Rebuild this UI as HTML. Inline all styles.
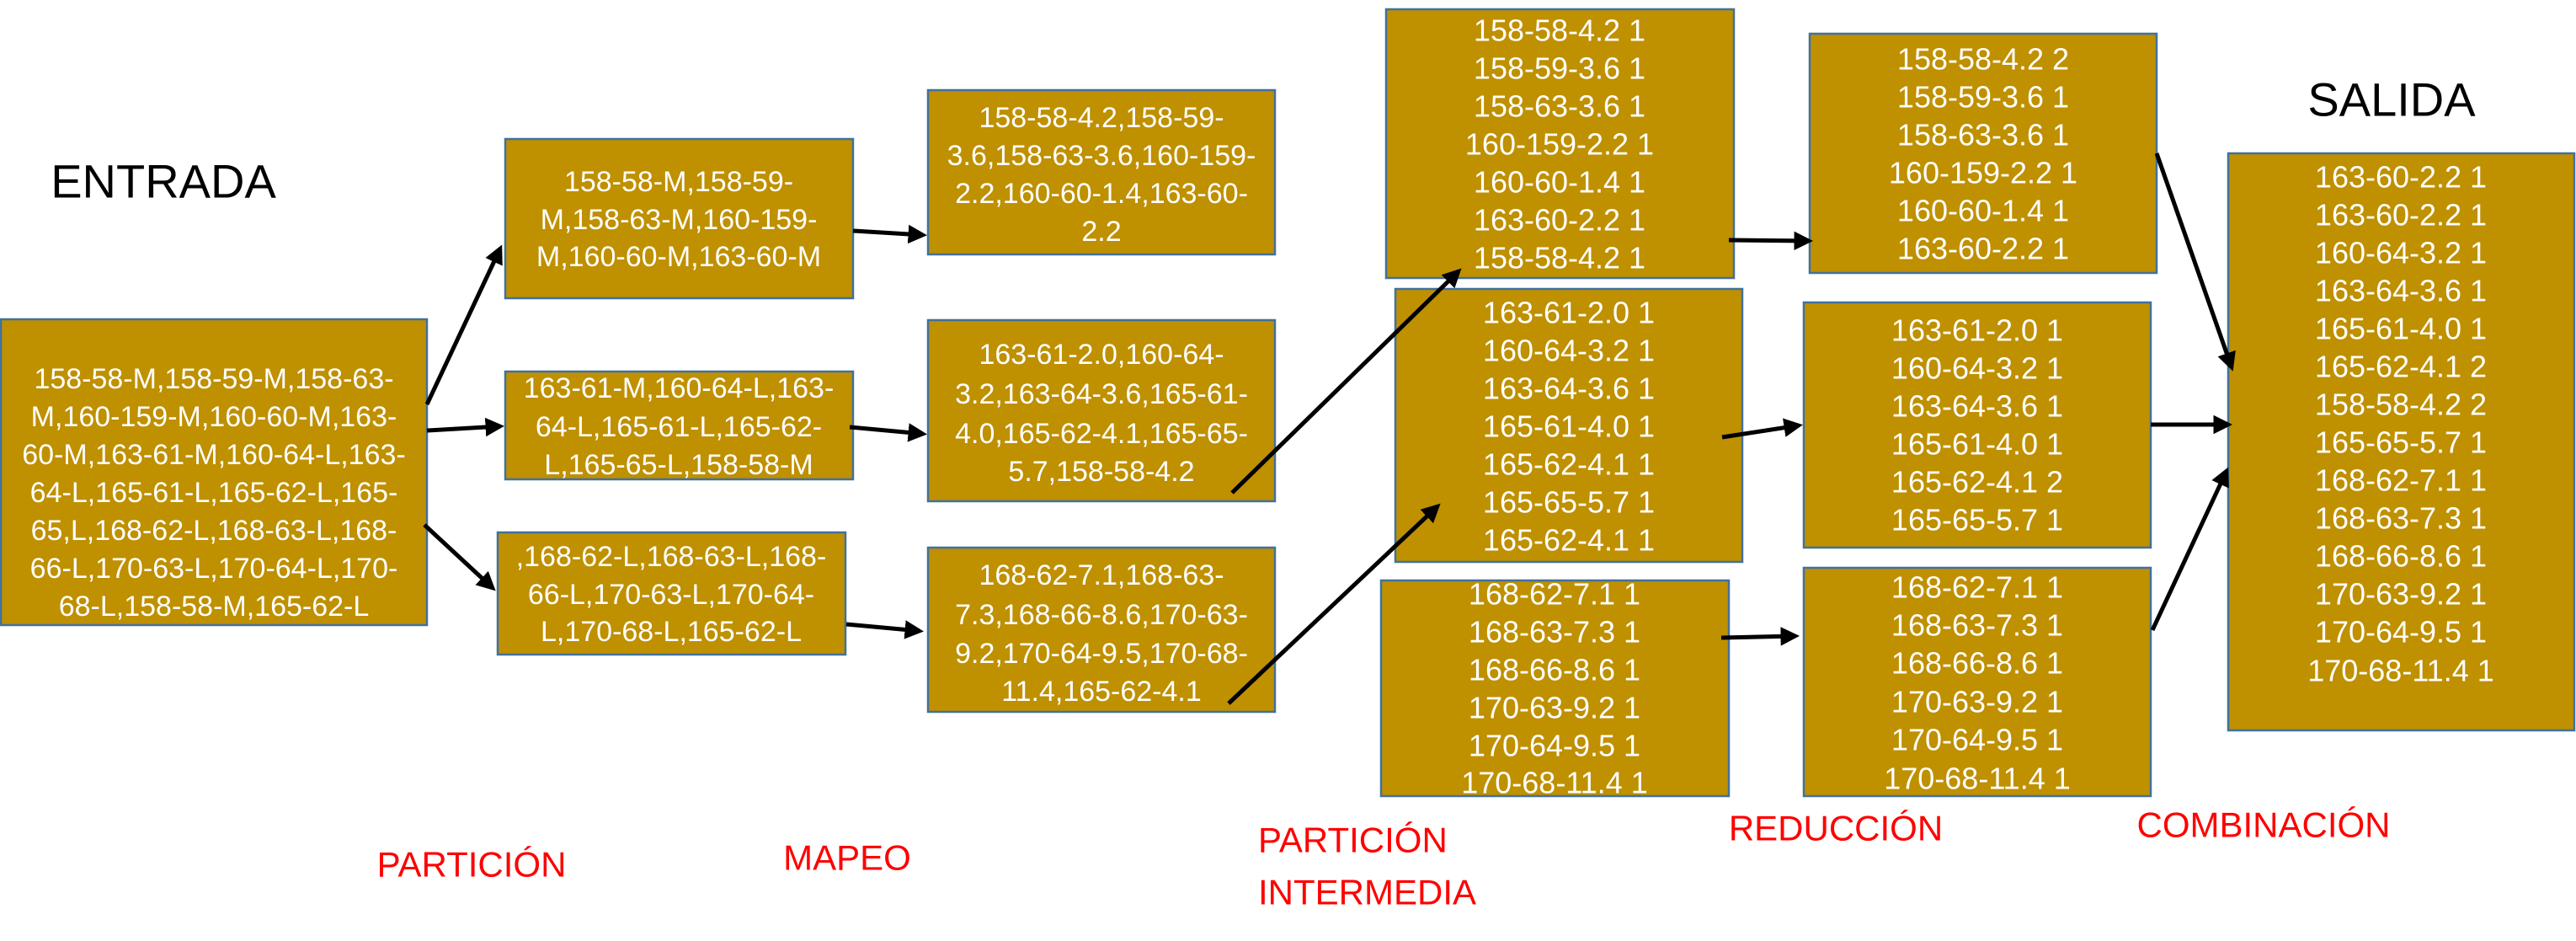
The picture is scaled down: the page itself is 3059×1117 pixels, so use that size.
<!DOCTYPE html>
<html><head><meta charset="utf-8"><style>
html,body{margin:0;padding:0;background:#fff;}
svg{display:block;}
text{font-family:"Liberation Sans",sans-serif;}
.b{fill:#BF9000;stroke:#41719C;stroke-width:2.5;}
.t{fill:#fff;font-size:36px;text-anchor:middle;dominant-baseline:central;}
.s{font-size:34px;}
.r{fill:#FF0000;font-size:42px;text-anchor:middle;dominant-baseline:central;}
.h{fill:#000;font-size:56px;text-anchor:middle;dominant-baseline:central;}
.a{stroke:#000;stroke-width:5;fill:none;marker-end:url(#ar);}
</style></head><body>
<svg width="3059" height="1117" viewBox="0 0 3059 1117" xmlns="http://www.w3.org/2000/svg">
<defs><marker id="ar" markerWidth="4.5" markerHeight="4.5" refX="3.5" refY="2.25" orient="auto" markerUnits="strokeWidth"><path d="M0,0 L4.5,2.25 L0,4.5 z" fill="#000"/></marker></defs>

<text class="h" x="194" y="215">ENTRADA</text>
<text class="h" x="2840" y="118">SALIDA</text>

<rect class="b" x="1" y="379" width="506" height="363"/>
<text class="t s" x="254" y="450">158-58-M,158-59-M,158-63-</text>
<text class="t s" x="254" y="495">M,160-159-M,160-60-M,163-</text>
<text class="t s" x="254" y="540">60-M,163-61-M,160-64-L,163-</text>
<text class="t s" x="254" y="585">64-L,165-61-L,165-62-L,165-</text>
<text class="t s" x="254" y="630">65,L,168-62-L,168-63-L,168-</text>
<text class="t s" x="254" y="675">66-L,170-63-L,170-64-L,170-</text>
<text class="t s" x="254" y="720">68-L,158-58-M,165-62-L</text>

<rect class="b" x="600" y="165" width="413" height="189"/>
<text class="t s" x="806" y="216">158-58-M,158-59-</text>
<text class="t s" x="806" y="261">M,158-63-M,160-159-</text>
<text class="t s" x="806" y="305">M,160-60-M,163-60-M</text>

<rect class="b" x="600" y="441" width="413" height="128"/>
<text class="t s" x="806" y="461">163-61-M,160-64-L,163-</text>
<text class="t s" x="806" y="507">64-L,165-61-L,165-62-</text>
<text class="t s" x="806" y="552">L,165-65-L,158-58-M</text>

<rect class="b" x="591" y="632" width="413" height="145"/>
<text class="t s" x="797" y="661">,168-62-L,168-63-L,168-</text>
<text class="t s" x="797" y="706">66-L,170-63-L,170-64-</text>
<text class="t s" x="797" y="750">L,170-68-L,165-62-L</text>

<rect class="b" x="1102" y="107" width="412" height="195"/>
<text class="t s" x="1308" y="140">158-58-4.2,158-59-</text>
<text class="t s" x="1308" y="185">3.6,158-63-3.6,160-159-</text>
<text class="t s" x="1308" y="230">2.2,160-60-1.4,163-60-</text>
<text class="t s" x="1308" y="275">2.2</text>

<rect class="b" x="1102" y="380" width="412" height="215"/>
<text class="t s" x="1308" y="421">163-61-2.0,160-64-</text>
<text class="t s" x="1308" y="468">3.2,163-64-3.6,165-61-</text>
<text class="t s" x="1308" y="515">4.0,165-62-4.1,165-65-</text>
<text class="t s" x="1308" y="560">5.7,158-58-4.2</text>

<rect class="b" x="1102" y="650" width="412" height="195"/>
<text class="t s" x="1308" y="683">168-62-7.1,168-63-</text>
<text class="t s" x="1308" y="730">7.3,168-66-8.6,170-63-</text>
<text class="t s" x="1308" y="776">9.2,170-64-9.5,170-68-</text>
<text class="t s" x="1308" y="821">11.4,165-62-4.1</text>

<rect class="b" x="1646" y="11" width="413" height="319"/>
<text class="t" x="1852" y="36">158-58-4.2 1</text><text class="t" x="1852" y="81">158-59-3.6 1</text><text class="t" x="1852" y="126">158-63-3.6 1</text><text class="t" x="1852" y="171">160-159-2.2 1</text><text class="t" x="1852" y="216">160-60-1.4 1</text><text class="t" x="1852" y="261">163-60-2.2 1</text><text class="t" x="1852" y="306">158-58-4.2 1</text>

<rect class="b" x="1657" y="343" width="412" height="324"/>
<text class="t" x="1863" y="371">163-61-2.0 1</text><text class="t" x="1863" y="416">160-64-3.2 1</text><text class="t" x="1863" y="461">163-64-3.6 1</text><text class="t" x="1863" y="506">165-61-4.0 1</text><text class="t" x="1863" y="551">165-62-4.1 1</text><text class="t" x="1863" y="596">165-65-5.7 1</text><text class="t" x="1863" y="641">165-62-4.1 1</text>

<rect class="b" x="1640" y="689" width="413" height="256"/>
<text class="t" x="1846" y="705">168-62-7.1 1</text><text class="t" x="1846" y="750">168-63-7.3 1</text><text class="t" x="1846" y="795">168-66-8.6 1</text><text class="t" x="1846" y="840">170-63-9.2 1</text><text class="t" x="1846" y="885">170-64-9.5 1</text><text class="t" x="1846" y="929">170-68-11.4 1</text>

<rect class="b" x="2149" y="40" width="412" height="284"/>
<text class="t" x="2355" y="70">158-58-4.2 2</text><text class="t" x="2355" y="115">158-59-3.6 1</text><text class="t" x="2355" y="160">158-63-3.6 1</text><text class="t" x="2355" y="205">160-159-2.2 1</text><text class="t" x="2355" y="250">160-60-1.4 1</text><text class="t" x="2355" y="295">163-60-2.2 1</text>

<rect class="b" x="2142" y="359" width="412" height="291"/>
<text class="t" x="2348" y="392">163-61-2.0 1</text><text class="t" x="2348" y="437">160-64-3.2 1</text><text class="t" x="2348" y="482">163-64-3.6 1</text><text class="t" x="2348" y="527">165-61-4.0 1</text><text class="t" x="2348" y="572">165-62-4.1 2</text><text class="t" x="2348" y="617">165-65-5.7 1</text>

<rect class="b" x="2142" y="674" width="412" height="271"/>
<text class="t" x="2348" y="697">168-62-7.1 1</text><text class="t" x="2348" y="742">168-63-7.3 1</text><text class="t" x="2348" y="787">168-66-8.6 1</text><text class="t" x="2348" y="833">170-63-9.2 1</text><text class="t" x="2348" y="878">170-64-9.5 1</text><text class="t" x="2348" y="924">170-68-11.4 1</text>

<rect class="b" x="2646" y="182" width="411" height="685"/>
<text class="t" x="2851" y="210">163-60-2.2 1</text><text class="t" x="2851" y="255">163-60-2.2 1</text><text class="t" x="2851" y="300">160-64-3.2 1</text><text class="t" x="2851" y="345">163-64-3.6 1</text><text class="t" x="2851" y="390">165-61-4.0 1</text><text class="t" x="2851" y="435">165-62-4.1 2</text><text class="t" x="2851" y="480">158-58-4.2 2</text><text class="t" x="2851" y="525">165-65-5.7 1</text><text class="t" x="2851" y="570">168-62-7.1 1</text><text class="t" x="2851" y="615">168-63-7.3 1</text><text class="t" x="2851" y="660">168-66-8.6 1</text><text class="t" x="2851" y="705">170-63-9.2 1</text><text class="t" x="2851" y="750">170-64-9.5 1</text><text class="t" x="2851" y="796">170-68-11.4 1</text>

<line class="a" x1="507" y1="480" x2="594" y2="295"/>
<line class="a" x1="507" y1="511" x2="594" y2="506"/>
<line class="a" x1="504" y1="623" x2="585" y2="698"/>
<line class="a" x1="1013" y1="274" x2="1096" y2="279"/>
<line class="a" x1="1009" y1="507" x2="1096" y2="515"/>
<line class="a" x1="1005" y1="741" x2="1092" y2="749"/>
<line class="a" x1="1463" y1="585" x2="1732" y2="322"/>
<line class="a" x1="1459" y1="835" x2="1707" y2="601"/>
<line class="a" x1="2053" y1="285" x2="2148" y2="286"/>
<line class="a" x1="2045" y1="519" x2="2136" y2="505"/>
<line class="a" x1="2044" y1="757" x2="2132" y2="755"/>
<line class="a" x1="2561" y1="182" x2="2650" y2="436"/>
<line class="a" x1="2554" y1="504" x2="2646" y2="504"/>
<line class="a" x1="2556" y1="748" x2="2644" y2="559"/>

<text class="r" x="560" y="1026">PARTICIÓN</text>
<text class="r" x="1006" y="1018">MAPEO</text>
<text class="r" x="1494" y="997" style="text-anchor:start">PARTICIÓN</text>
<text class="r" x="1494" y="1059" style="text-anchor:start">INTERMEDIA</text>
<text class="r" x="2180" y="983">REDUCCIÓN</text>
<text class="r" x="2688" y="979">COMBINACIÓN</text>
</svg>
</body></html>
